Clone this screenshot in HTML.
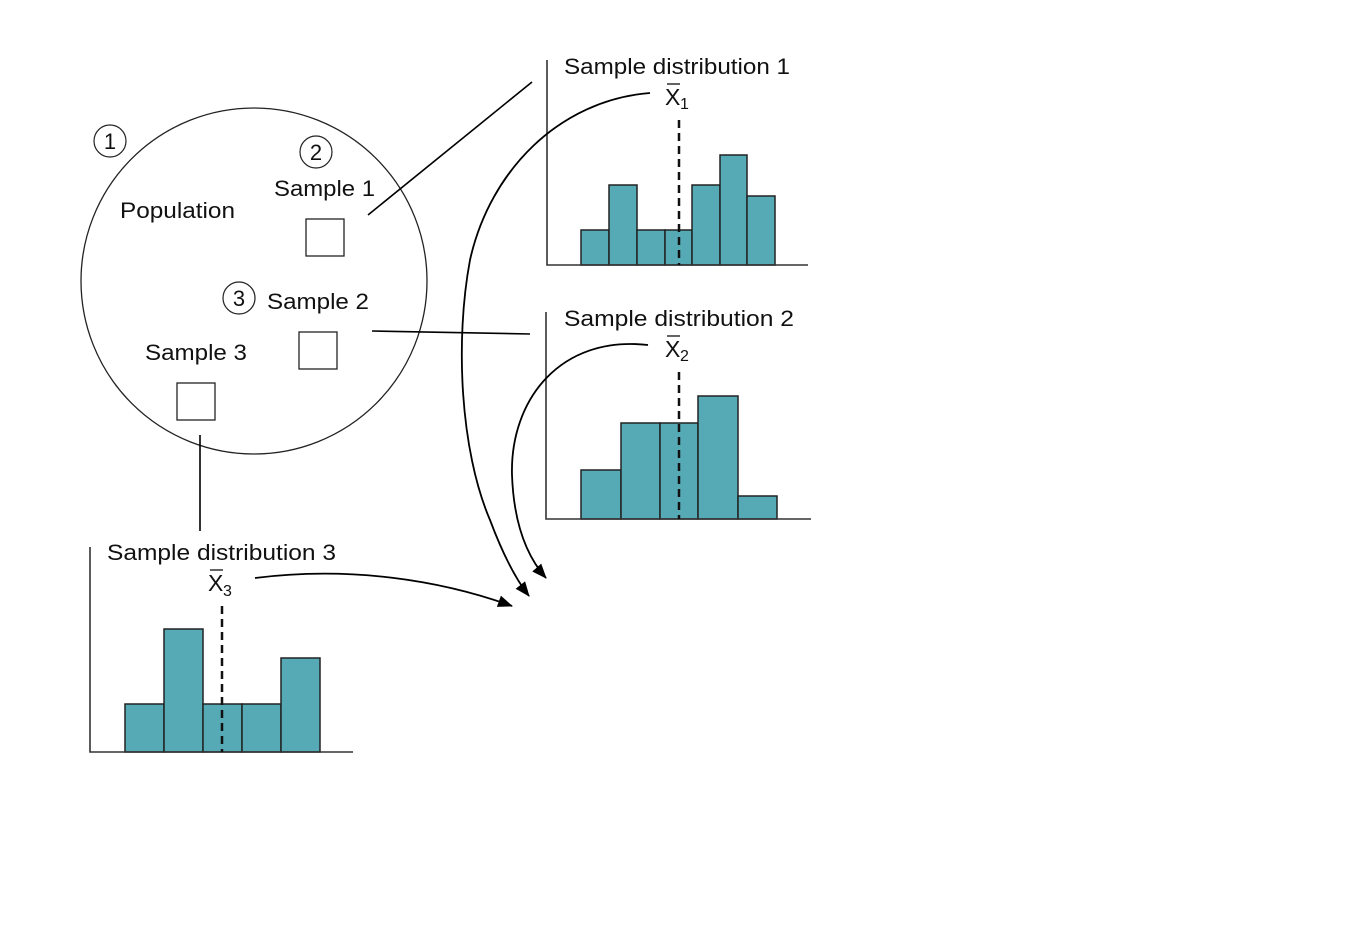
<!DOCTYPE html>
<html><head><meta charset="utf-8"><style>
html,body{margin:0;padding:0;background:#fff;}
svg{display:block;}
text{font-family:"Liberation Sans",Arial,sans-serif;fill:#111;}
</style></head><body>
<svg width="1346" height="950" viewBox="0 0 1346 950" xmlns="http://www.w3.org/2000/svg">
<defs>
<marker id="ah" markerWidth="15" markerHeight="12" refX="14" refY="6" orient="auto" markerUnits="userSpaceOnUse">
<path d="M0,0 L15,6 L0,12 z" fill="#000"/>
</marker>
</defs>
<ellipse cx="254" cy="281" rx="173" ry="173" fill="none" stroke="#222" stroke-width="1.3"/>
<circle cx="110" cy="141" r="16" fill="none" stroke="#222" stroke-width="1.2"/>
<text x="110" y="149" font-size="22" text-anchor="middle">1</text>
<circle cx="316" cy="152" r="16" fill="none" stroke="#222" stroke-width="1.2"/>
<text x="316" y="160" font-size="22" text-anchor="middle">2</text>
<circle cx="239" cy="298" r="16" fill="none" stroke="#222" stroke-width="1.2"/>
<text x="239" y="306" font-size="22" text-anchor="middle">3</text>
<text x="120" y="218" font-size="22" textLength="115" lengthAdjust="spacingAndGlyphs">Population</text>
<text x="274" y="196" font-size="22" textLength="101" lengthAdjust="spacingAndGlyphs">Sample 1</text>
<text x="267" y="309" font-size="22" textLength="102" lengthAdjust="spacingAndGlyphs">Sample 2</text>
<text x="145" y="360" font-size="22" textLength="102" lengthAdjust="spacingAndGlyphs">Sample 3</text>
<rect x="306" y="219" width="38" height="37" fill="none" stroke="#222" stroke-width="1.3"/>
<rect x="299" y="332" width="38" height="37" fill="none" stroke="#222" stroke-width="1.3"/>
<rect x="177" y="383" width="38" height="37" fill="none" stroke="#222" stroke-width="1.3"/>
<line x1="368" y1="215" x2="532" y2="82" stroke="#000" stroke-width="1.6"/>
<line x1="372" y1="331" x2="530" y2="334" stroke="#000" stroke-width="1.6"/>
<line x1="200" y1="435" x2="200" y2="531" stroke="#000" stroke-width="1.6"/>

<g stroke="#222" stroke-width="1.5" fill="#55aab5">
<rect x="581" y="230" width="28" height="35"/>
<rect x="609" y="185" width="28" height="80"/>
<rect x="637" y="230" width="28" height="35"/>
<rect x="665" y="230" width="27" height="35"/>
<rect x="692" y="185" width="28" height="80"/>
<rect x="720" y="155" width="27" height="110"/>
<rect x="747" y="196" width="28" height="69"/>
</g>
<path d="M547,60 V265 H808" fill="none" stroke="#333" stroke-width="1.6"/>
<line x1="679" y1="120" x2="679" y2="265" stroke="#111" stroke-width="2.5" stroke-dasharray="8,5"/>
<text x="564" y="74" font-size="22" textLength="226" lengthAdjust="spacingAndGlyphs">Sample distribution 1</text>
<text x="665" y="105" font-size="23">X</text><text x="680" y="109" font-size="16">1</text>
<line x1="667" y1="84" x2="680" y2="84" stroke="#111" stroke-width="1.3"/>

<g stroke="#222" stroke-width="1.5" fill="#55aab5">
<rect x="581" y="470" width="40" height="49"/>
<rect x="621" y="423" width="39" height="96"/>
<rect x="660" y="423" width="38" height="96"/>
<rect x="698" y="396" width="40" height="123"/>
<rect x="738" y="496" width="39" height="23"/>
</g>
<path d="M546,312 V519 H811" fill="none" stroke="#333" stroke-width="1.6"/>
<line x1="679" y1="372" x2="679" y2="519" stroke="#111" stroke-width="2.5" stroke-dasharray="8,5"/>
<text x="564" y="326" font-size="22" textLength="230" lengthAdjust="spacingAndGlyphs">Sample distribution 2</text>
<text x="665" y="357" font-size="23">X</text><text x="680" y="361" font-size="16">2</text>
<line x1="667" y1="336" x2="680" y2="336" stroke="#111" stroke-width="1.3"/>

<g stroke="#222" stroke-width="1.5" fill="#55aab5">
<rect x="125" y="704" width="39" height="48"/>
<rect x="164" y="629" width="39" height="123"/>
<rect x="203" y="704" width="39" height="48"/>
<rect x="242" y="704" width="39" height="48"/>
<rect x="281" y="658" width="39" height="94"/>
</g>
<path d="M90,547 V752 H353" fill="none" stroke="#333" stroke-width="1.6"/>
<line x1="222" y1="606" x2="222" y2="752" stroke="#111" stroke-width="2.5" stroke-dasharray="8,5"/>
<text x="107" y="560" font-size="22" textLength="229" lengthAdjust="spacingAndGlyphs">Sample distribution 3</text>
<text x="208" y="591" font-size="23">X</text><text x="223" y="596" font-size="16">3</text>
<line x1="210" y1="570" x2="223" y2="570" stroke="#111" stroke-width="1.3"/>

<path d="M650,93 C560,100 490,170 470,260 C455,340 460,450 490,520 C505,560 518,582 529,596" fill="none" stroke="#000" stroke-width="1.8" marker-end="url(#ah)"/>
<path d="M648,345 C560,335 510,400 512,475 C514,530 530,560 546,578" fill="none" stroke="#000" stroke-width="1.8" marker-end="url(#ah)"/>
<path d="M255,578 C350,566 440,580 512,606" fill="none" stroke="#000" stroke-width="1.8" marker-end="url(#ah)"/>
</svg>
</body></html>
